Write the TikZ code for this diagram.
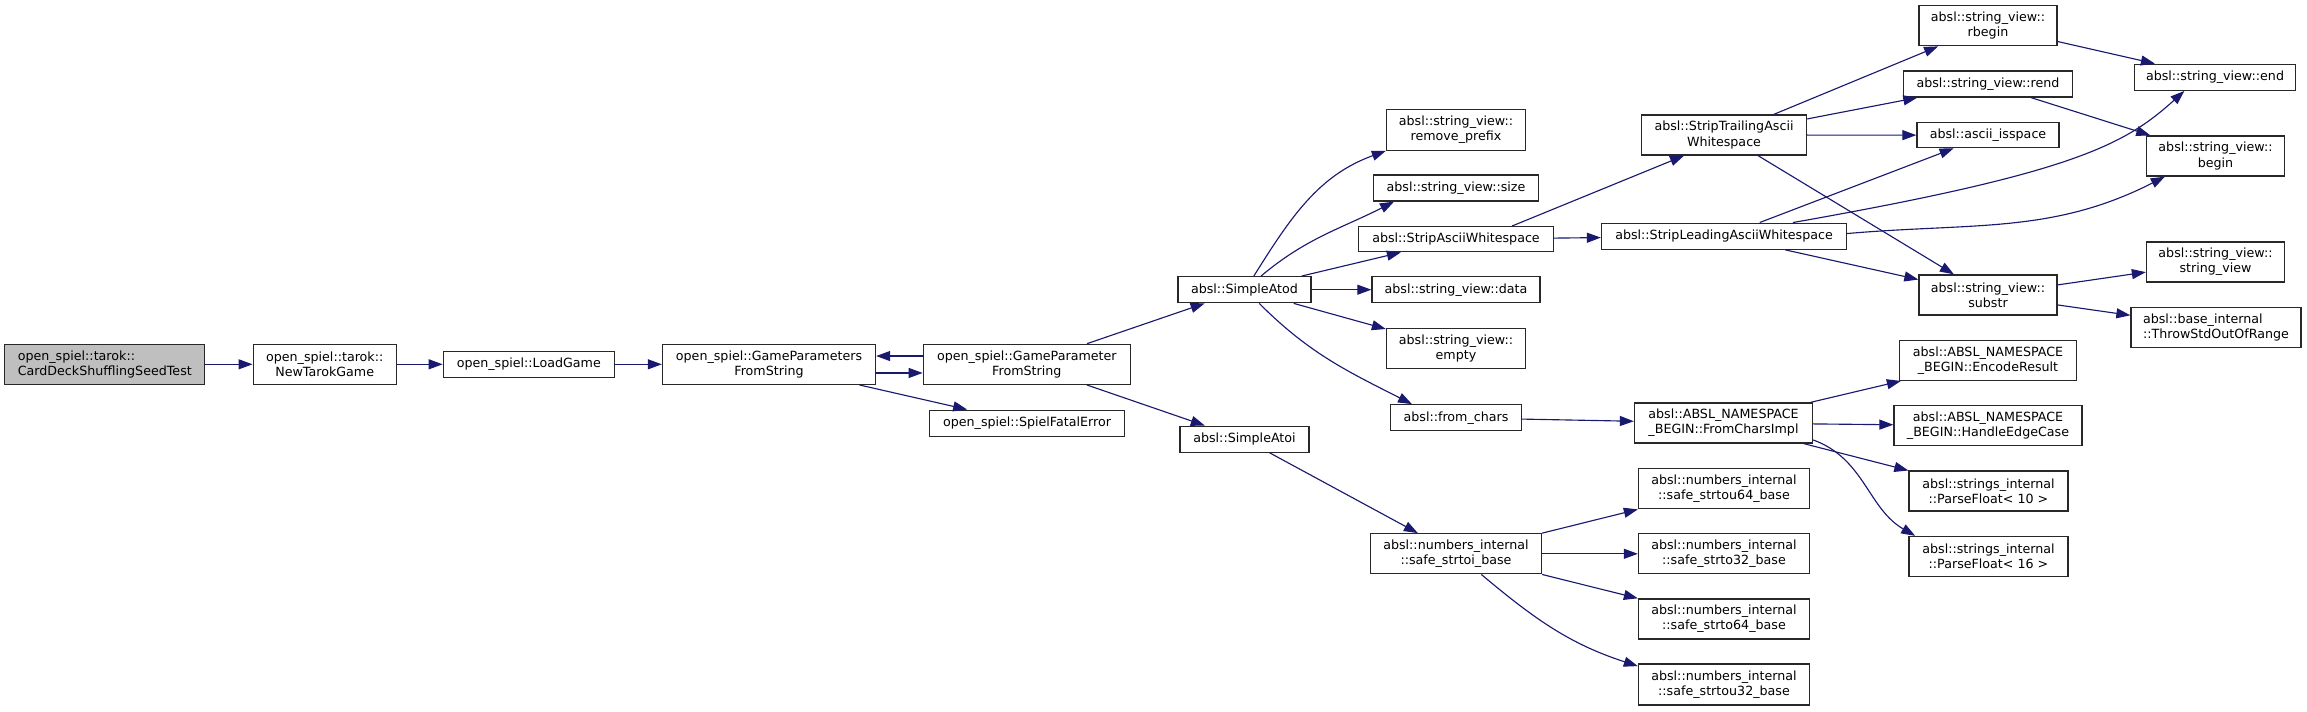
\documentclass[tikz,border=0pt]{standalone}
\usepackage{fontspec}
\setmainfont{DejaVu Sans}
\usetikzlibrary{arrows.meta}
\definecolor{callblue}{RGB}{25,25,112}
\definecolor{boxline}{RGB}{40,40,40}
\definecolor{rootgray}{RGB}{191,191,191}
\tikzset{
  fn/.style 2 args={draw=boxline, line width=1pt, inner sep=0pt, align=center,
    minimum width=#1*0.75pt, minimum height=#2*0.75pt,
    font=\fontsize{9.5pt}{11.3pt}\selectfont},
  call/.style={draw=callblue, line width=0.85pt, -{Triangle[length=10.5pt,width=7.5pt]}}
}
\begin{document}
\begin{tikzpicture}[x=0.75pt,y=-0.75pt]
\useasboundingbox (0,0) rectangle (2307,711);
% Nodes, column by column
\node[fn={200}{40}, fill=rootgray, align=left] (card) at (104.8,364.3) {open\_spiel::tarok::\\CardDeckShufflingSeedTest};
\node[fn={143}{40}] (tarok) at (324.7,364.3) {open\_spiel::tarok::\\NewTarokGame};
\node[fn={171}{26}] (load) at (528.8,364.3) {open\_spiel::LoadGame};
\node[fn={213}{40}] (gps) at (769,364.3) {open\_spiel::GameParameters\\FromString};
\node[fn={207}{40}] (gp) at (1026.8,364.3) {open\_spiel::GameParameter\\FromString};
\node[fn={195}{26}] (fatal) at (1027,423.2) {open\_spiel::SpielFatalError};
\node[fn={133}{26}] (atod) at (1244.5,289.7) {absl::SimpleAtod};
\node[fn={129}{26}] (atoi) at (1244.5,439.2) {absl::SimpleAtoi};
\node[fn={139}{41}] (rmpre) at (1456,129.7) {absl::string\_view::\\remove\_prefix};
\node[fn={165}{26}] (size) at (1456,188) {absl::string\_view::size};
\node[fn={195}{25}] (strip) at (1456,239.2) {absl::StripAsciiWhitespace};
\node[fn={168}{26}] (data) at (1456,289.7) {absl::string\_view::data};
\node[fn={139}{40}] (empty) at (1456,348.5) {absl::string\_view::\\empty};
\node[fn={131}{26}] (fromc) at (1456,417.8) {absl::from\_chars};
\node[fn={171}{40}] (stoi) at (1456,553.8) {absl::numbers\_internal\\::safe\_strtoi\_base};
\node[fn={165}{40}] (trail) at (1724,135) {absl::StripTrailingAscii\\Whitespace};
\node[fn={245}{26}] (lead) at (1724,236.2) {absl::StripLeadingAsciiWhitespace};
\node[fn={178}{40}] (impl) at (1723.5,423) {absl::ABSL\_NAMESPACE\\\_BEGIN::FromCharsImpl};
\node[fn={171}{40}] (u64) at (1724,488.7) {absl::numbers\_internal\\::safe\_strtou64\_base};
\node[fn={171}{40}] (s32) at (1724,553.8) {absl::numbers\_internal\\::safe\_strto32\_base};
\node[fn={171}{40}] (s64) at (1724,619) {absl::numbers\_internal\\::safe\_strto64\_base};
\node[fn={171}{41}] (u32) at (1724,684.6) {absl::numbers\_internal\\::safe\_strtou32\_base};
\node[fn={138}{40}] (rbegin) at (1988,25.7) {absl::string\_view::\\rbegin};
\node[fn={169}{26}] (rend) at (1988,84) {absl::string\_view::rend};
\node[fn={142}{25}] (isspace) at (1988,135.2) {absl::ascii\_isspace};
\node[fn={138}{40}] (substr) at (1988,295) {absl::string\_view::\\substr};
\node[fn={177}{40}] (encode) at (1988,360.3) {absl::ABSL\_NAMESPACE\\\_BEGIN::EncodeResult};
\node[fn={188}{40}] (edge) at (1988,425.7) {absl::ABSL\_NAMESPACE\\\_BEGIN::HandleEdgeCase};
\node[fn={159}{40}] (pf10) at (1988.5,491) {absl::strings\_internal\\::ParseFloat< 10 >};
\node[fn={159}{40}] (pf16) at (1988.5,556.5) {absl::strings\_internal\\::ParseFloat< 16 >};
\node[fn={161}{26}] (endf) at (2215,77.3) {absl::string\_view::end};
\node[fn={138}{40}] (beginf) at (2215.5,156) {absl::string\_view::\\begin};
\node[fn={138}{40}] (sview) at (2215.5,262) {absl::string\_view::\\string\_view};
\node[fn={170}{40}, align=left] (throw) at (2216,327.5) {absl::base\_internal\\::ThrowStdOutOfRange};
% Calls
\draw[call] (card) -- (tarok);
\draw[call] (tarok) -- (load);
\draw[call] (load) -- (gps);
\draw[call] ([yshift=-6.5pt]gps.east) -- ([yshift=-6.5pt]gp.west);
\draw[call] ([yshift=6.2pt]gp.west) -- ([yshift=6.2pt]gps.east);
\draw[call] (gps) -- (fatal);
\draw[call] (gp) -- (atod);
\draw[call] (gp) -- (atoi);
\draw[call] ([xshift=7pt]atod.north) to[out=58,in=200] (rmpre.south west);
\draw[call] ([xshift=12.4pt]atod.north) to[out=40,in=207] ([xshift=-46.5pt]size.south);
\draw[call] (atod) -- (strip);
\draw[call] (atod) -- (data);
\draw[call] (atod) -- (empty);
\draw[call] ([xshift=11pt]atod.south) to[out=-45,in=153] ([xshift=-33pt]fromc.north);
\draw[call] ([xshift=42pt]strip.north) -- ([xshift=-30pt]trail.south);
\draw[call] (strip) -- (lead);
\draw[call] (trail) -- (rbegin);
\draw[call] (trail) -- (rend);
\draw[call] (trail) -- (isspace);
\draw[call] (trail) -- (substr);
\draw[call] (lead) -- (isspace);
\draw[call] ([xshift=51.7pt]lead.north) .. controls +(10:215pt) and +(222:60pt) .. ([xshift=-23pt]endf.south);
\draw[call] ([yshift=2pt]lead.east) to[out=5,in=207] ([xshift=-38pt]beginf.south);
\draw[call] (lead) -- (substr);
\draw[call] (rbegin) -- (endf);
\draw[call] (rend) -- (beginf);
\draw[call] (substr) -- (sview);
\draw[call] (substr) -- (throw);
\draw[call] (fromc) -- (impl);
\draw[call] (impl) -- (encode);
\draw[call] (impl) -- (edge);
\draw[call] (impl) -- (pf10);
\draw[call] ([yshift=2.8pt]impl.south east) to[out=-20,in=150] ([xshift=-55pt]pf16.north);
\draw[call] (atoi) -- (stoi);
\draw[call] (stoi.north east) -- (u64.south west);
\draw[call] (stoi) -- (s32);
\draw[call] (stoi.south east) -- (s64.north west);
\draw[call] ([xshift=19pt]stoi.south) to[out=-40,in=162] ([yshift=-2pt]u32.north west);
\end{tikzpicture}
\end{document}
